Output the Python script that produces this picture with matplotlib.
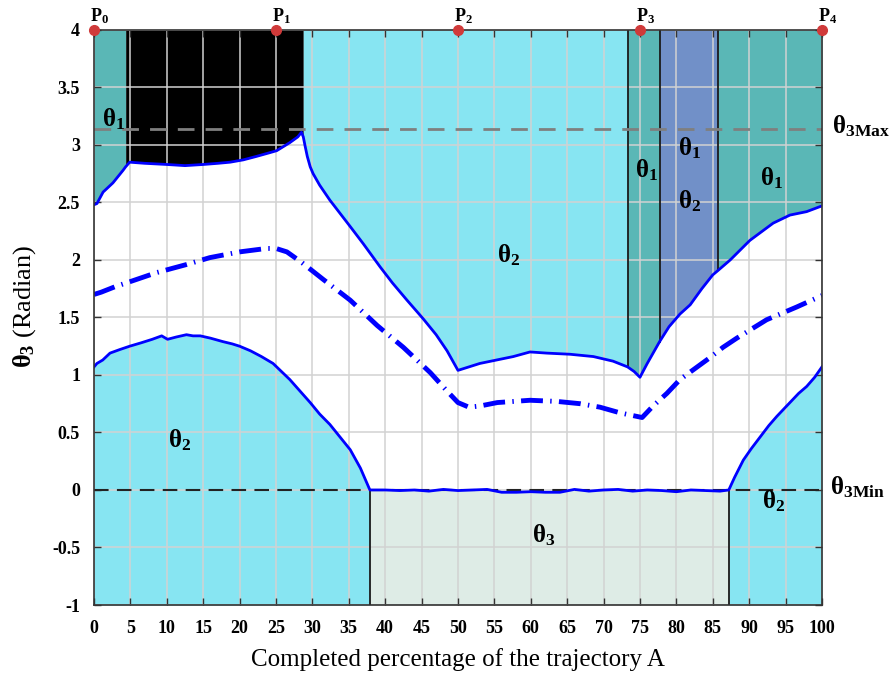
import numpy as np
import matplotlib
matplotlib.use('Agg')
import matplotlib.pyplot as plt

plt.rcParams['font.family'] = ['Liberation Serif', 'DejaVu Serif']
plt.rcParams['mathtext.fontset'] = 'custom'
plt.rcParams['mathtext.rm'] = 'Liberation Serif'
plt.rcParams['mathtext.bf'] = 'Liberation Serif:bold'
plt.rcParams['mathtext.it'] = 'Liberation Serif:italic'

# upper limit curve of theta3
upper_x = [0, 0.4, 1.25, 2.6, 4.0, 4.35, 4.9, 7, 10, 12.5, 15, 17, 18.7, 20.5, 22.3, 24, 25.1,
           26.9, 28.0, 28.5, 28.75, 29.0, 29.3, 29.7, 30.1, 31.0, 32.4, 35.2, 37.0, 39.3, 41.0,
           43.0, 45.2, 47.0, 48.5, 50.0, 53.0, 55.3, 57.6, 59.9, 62.2, 65.4, 68.6, 71.3, 73.3,
           74.2, 75.0, 76.0, 77.7, 79.0, 80.5, 81.9, 83.5, 85.0, 85.75, 87.4, 90.1, 93.3, 95.6,
           97.9, 100]
upper_y = [2.48, 2.49, 2.59, 2.67, 2.78, 2.81, 2.85, 2.84, 2.83, 2.82, 2.83, 2.84, 2.85, 2.87,
           2.90, 2.93, 2.95, 3.02, 3.07, 3.11, 3.07, 2.99, 2.90, 2.81, 2.75, 2.65, 2.52, 2.29,
           2.14, 1.94, 1.80, 1.65, 1.49, 1.35, 1.21, 1.04, 1.10, 1.13, 1.16, 1.20, 1.19, 1.18,
           1.16, 1.12, 1.07, 1.03, 0.98, 1.10, 1.29, 1.42, 1.53, 1.61, 1.75, 1.87, 1.91, 2.00,
           2.17, 2.32, 2.39, 2.42, 2.47]

# middle (dashed) curve
mid_x = [0, 1, 3, 4.9, 8.6, 12.7, 15.9, 20, 23.7, 25, 26.5, 28.5, 31.5, 35.2, 38.9, 42.5, 46.2,
         48.5, 50, 51.5, 53, 55.4, 59.9, 63.6, 66.8, 69.5, 72.3, 75.3, 76.8, 78.7, 80.5, 82,
         84.6, 86.4, 88.3, 92.4, 96.5, 100]
mid_y = [1.70, 1.72, 1.77, 1.81, 1.89, 1.96, 2.02, 2.07, 2.10, 2.10, 2.07, 1.98, 1.83, 1.65,
         1.43, 1.24, 1.02, 0.86, 0.76, 0.72, 0.73, 0.76, 0.78, 0.77, 0.75, 0.72, 0.67, 0.63,
         0.73, 0.84, 0.96, 1.03, 1.15, 1.24, 1.32, 1.48, 1.59, 1.69]

# lower limit curve of theta3
lower_x = [0, 0.4, 1.2, 2.2, 3.5, 4.9, 6.5, 8, 9.3, 10.1, 11.3, 12.7, 13.6, 14.6, 16, 17.7,
           19, 20, 21.5, 23, 24.6, 26.9, 28.3, 29.7, 31, 32.4, 33.8, 35.2, 36.6, 37.9,
           40, 42, 44, 46, 48, 50, 52, 54, 56, 58, 60, 62, 64, 66, 68, 70, 72, 74, 76, 78,
           80, 82, 84, 86, 87.2, 88, 89.2, 90.3, 91.5, 92.7, 93.8, 95.6, 96.8, 97.9, 99, 100]
lower_y = [1.07, 1.10, 1.13, 1.19, 1.22, 1.25, 1.28, 1.31, 1.34, 1.31, 1.33, 1.35, 1.34, 1.34,
           1.32, 1.29, 1.27, 1.25, 1.21, 1.16, 1.10, 0.96, 0.86, 0.76, 0.66, 0.57, 0.46, 0.35,
           0.19, 0.0,
           0.0, -0.005, 0.0, -0.01, 0.005, -0.005, 0.0, 0.005, -0.02, -0.02, -0.015, -0.02,
           -0.02, 0.005, -0.01, 0.0, 0.005, -0.01, 0.0, -0.005, -0.015, 0.0, -0.005, -0.01, 0.0,
           0.11, 0.26, 0.36, 0.46, 0.56, 0.64, 0.76, 0.84, 0.90, 0.98, 1.07]

# regions above the upper curve: (start, end, colour)
upper_regions = [(0, 4.35, '#5ab7b6'), (4.35, 28.75, '#000000'), (28.75, 73.3, '#87e5f2'),
                 (73.3, 77.7, '#5ab7b6'), (77.7, 85.75, '#7190c8'), (85.75, 100, '#5ab7b6')]
upper_edges = [73.3, 77.7, 85.75]
# regions below the lower curve
lower_regions = [(0, 37.9, '#87e5f2'), (37.9, 87.2, '#deece6'), (87.2, 100, '#87e5f2')]
lower_edges = [37.9, 87.2]

theta3_max = 3.14
theta3_min = 0.0

points_x = [0, 25, 50, 75, 100]
points_lbl = [r'$\mathbf{P_0}$', r'$\mathbf{P_1}$', r'$\mathbf{P_2}$', r'$\mathbf{P_3}$',
              r'$\mathbf{P_4}$']

region_labels = [(1.05, 3.157, r'$\mathbf{\theta_1}$'),
                 (10.2, 0.374, r'$\mathbf{\theta_2}$'),
                 (55.4, 1.98, r'$\mathbf{\theta_2}$'),
                 (74.3, 2.72, r'$\mathbf{\theta_1}$'),
                 (80.2, 2.91, r'$\mathbf{\theta_1}$'),
                 (80.2, 2.45, r'$\mathbf{\theta_2}$'),
                 (91.5, 2.65, r'$\mathbf{\theta_1}$'),
                 (60.2, -0.46, r'$\mathbf{\theta_3}$'),
                 (91.8, -0.16, r'$\mathbf{\theta_2}$')]

xticks = np.arange(0, 101, 5)
yticks = [-1, -0.5, 0, 0.5, 1, 1.5, 2, 2.5, 3, 3.5, 4]
ytick_lbl = ['-1', '-0.5', '0', '0.5', '1', '1.5', '2', '2.5', '3', '3.5', '4']

ux, uy = np.array(upper_x), np.array(upper_y)
lx, ly = np.array(lower_x), np.array(lower_y)

fig = plt.figure(figsize=(8.91, 6.75), dpi=100)
ax = fig.add_axes([0.1055, 0.1037, 0.817, 0.852])

for a, b, c in upper_regions:
    m = (ux >= a - 1e-9) & (ux <= b + 1e-9)
    ax.fill_between(ux[m], uy[m], 4, color=c, lw=0, zorder=1)
for a, b, c in lower_regions:
    m = (lx >= a - 1e-9) & (lx <= b + 1e-9)
    ax.fill_between(lx[m], -1, ly[m], color=c, lw=0, zorder=1)

for e in upper_edges:
    ax.plot([e, e], [4, uy[np.isclose(ux, e)][0]], color='#1a1a1a', lw=1.3, zorder=3)
for e in lower_edges:
    ax.plot([e, e], [-1, ly[np.isclose(lx, e)][0]], color='#1a1a1a', lw=1.3, zorder=3)

ax.axhline(theta3_max, color='#7f7f7f', lw=2, ls=(0, (6, 4)), zorder=3)
ax.axhline(theta3_min, color='#222222', lw=1.5, ls=(0, (7, 4)), zorder=3)

ax.plot(ux, uy, color='#0000ff', lw=2, zorder=4)
ax.plot(lx, ly, color='#0000ff', lw=2, zorder=4)
ax.plot(mid_x, mid_y, color='#0000ff', lw=3.5, ls=(0, (4.5, 1.5, 0.3, 1.5)), zorder=4)

ax.plot(points_x, [4] * len(points_x), 'o', color='#d03a3a', ms=7, clip_on=False, zorder=6)
for px, lbl in zip(points_x, points_lbl):
    ax.annotate(lbl, (px, 4), xytext=(4, 3), textcoords='offset points',
                ha='center', va='bottom', fontsize=13,
                annotation_clip=False)

for tx, ty, s in region_labels:
    ax.text(tx, ty, s, fontsize=18, ha='left', va='baseline', zorder=5)
ax.text(101.4, 3.10, r'$\mathbf{\theta_{3Max}}$', fontsize=18, ha='left', va='baseline',
        clip_on=False)
ax.text(101.1, -0.04, r'$\mathbf{\theta_{3Min}}$', fontsize=18, ha='left', va='baseline',
        clip_on=False)

ax.set_xlim(0, 100)
ax.set_ylim(-1, 4)
ax.set_xticks(xticks)
ax.set_yticks(yticks)
ax.set_yticklabels(ytick_lbl)
ax.grid(True, color='#d2d2d2', lw=1.1)
ax.set_axisbelow(False)
for gl in ax.get_xgridlines() + ax.get_ygridlines():
    gl.set_zorder(2)
ax.tick_params(direction='in', top=True, right=True, length=5, width=1, color='#333333',
               labelsize=13)
ax.tick_params(axis='x', pad=11)
ax.tick_params(axis='y', pad=10)
for lab in ax.get_xticklabels() + ax.get_yticklabels():
    lab.set_fontweight('bold')
for sp in ax.spines.values():
    sp.set_color('#333333')
    sp.set_linewidth(1.2)
    sp.set_zorder(5)

ax.set_xlabel('Completed percentage of the trajectory A', fontsize=18, labelpad=8)
ax.set_ylabel(r'$\mathbf{\theta_3}$ (Radian)', fontsize=19)
ax.yaxis.set_label_coords(-0.077, 0.52)

plt.savefig('out.png', dpi=100)
plt.close(fig)
